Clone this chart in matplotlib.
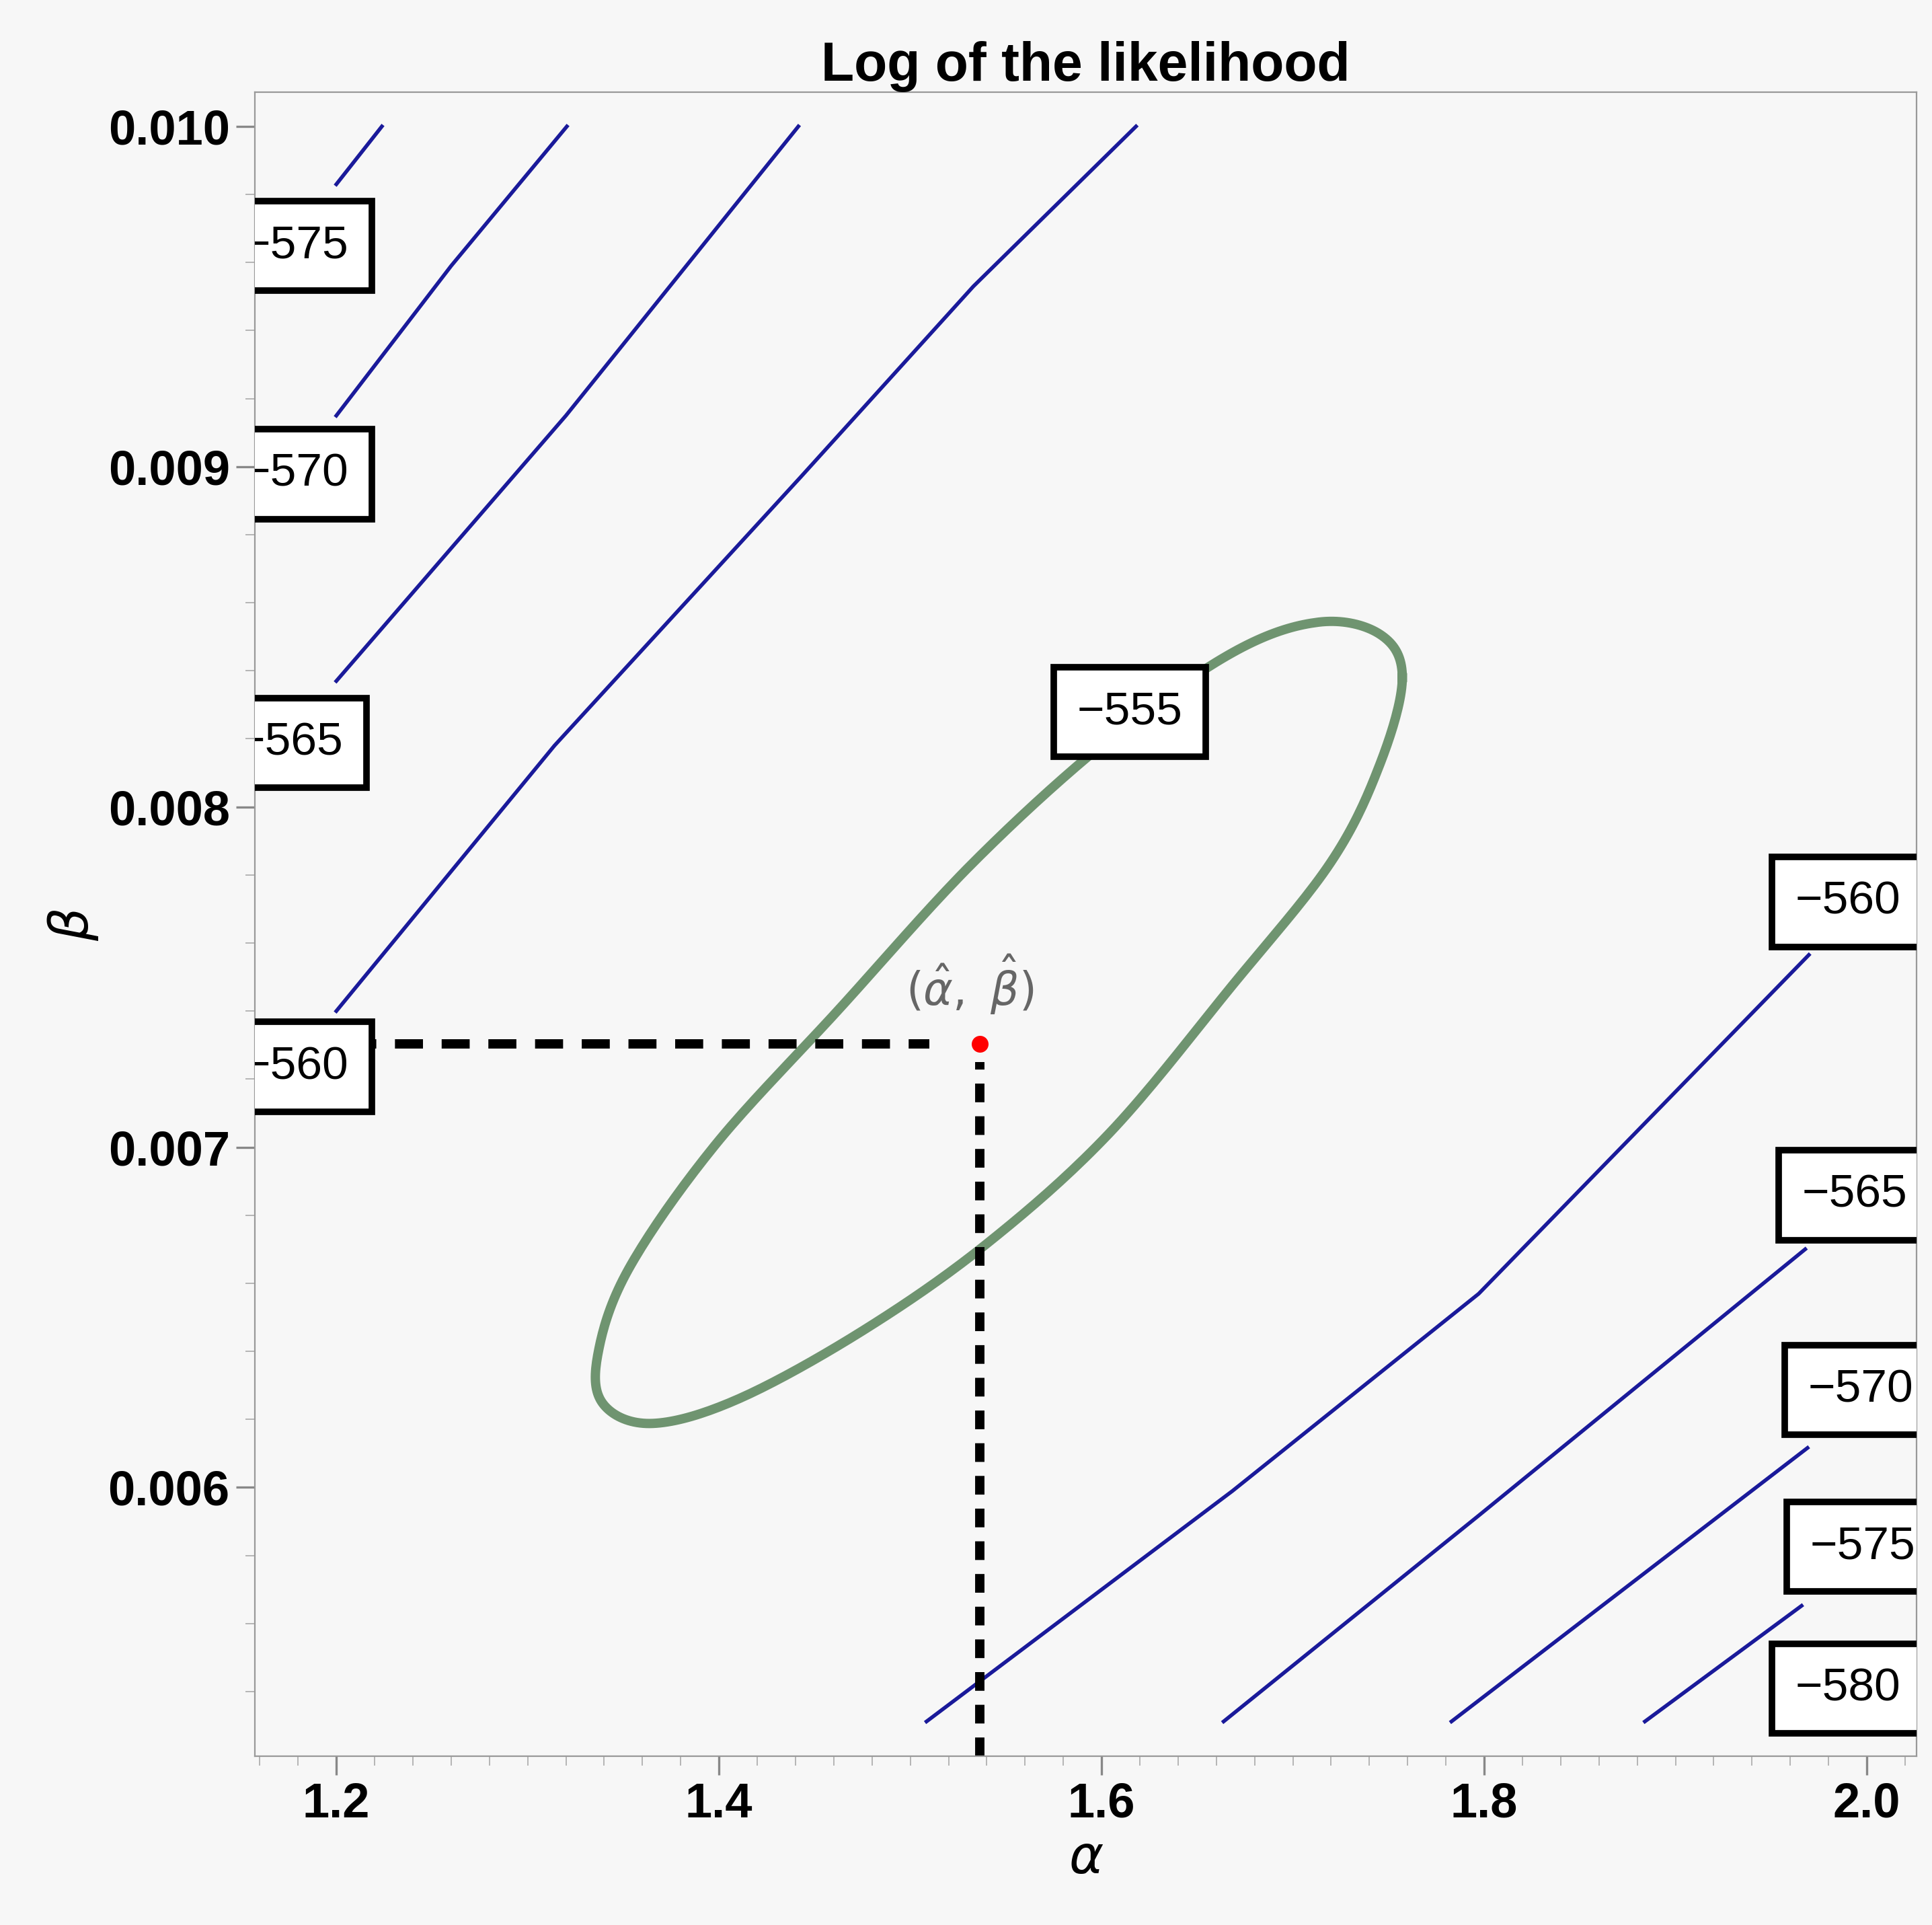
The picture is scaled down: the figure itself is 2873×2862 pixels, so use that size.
import matplotlib.pyplot as plt
import numpy as np

plt.rcParams['font.family'] = ['Liberation Sans', 'DejaVu Sans']

# contour curves (alpha, beta)
upper_lines = {
    -575: ([1.2, 1.2238], [0.00983, 0.01000]),
    -570: ([1.2, 1.26, 1.3205], [0.00915, 0.00959, 0.01000]),
    -565: ([1.2, 1.32, 1.4415], [0.00837, 0.00915, 0.01000]),
    -560: ([1.2, 1.314, 1.4428, 1.533, 1.618], [0.00740, 0.00818, 0.00897, 0.00953, 0.01000]),
}
lower_lines = {
    -560: ([1.5085, 1.6683, 1.7971, 1.9697], [0.005312, 0.005989, 0.006569, 0.007565]),
    -565: ([1.6638, 1.7971, 1.9678], [0.005312, 0.005917, 0.0067]),
    -570: ([1.7829, 1.969], [0.005312, 0.006116]),
    -575: ([1.884, 1.9659], [0.005312, 0.005652]),
}
ell_a = [1.7572, 1.7456, 1.7198, 1.6683, 1.6039, 1.5395, 1.4750, 1.4106, 1.3655, 1.3398,
         1.3366, 1.3527, 1.3977, 1.4622, 1.5330, 1.6039, 1.6683, 1.7134, 1.7456]
ell_b = [0.008380, 0.008127, 0.007837, 0.007475, 0.007040, 0.006714, 0.006460, 0.006261, 0.006188, 0.006243,
         0.006388, 0.006641, 0.007004, 0.007402, 0.007837, 0.008199, 0.008453, 0.008543, 0.008507]
alpha_hat, beta_hat = 1.5362, 0.007304

labels = [(-575, 1.1787, 0.009649), (-570, 1.1787, 0.008978), (-565, 1.1760, 0.008188),
          (-560, 1.1787, 0.007236), (-555, 1.6148, 0.008279),
          (-560, 1.9903, 0.007721), (-565, 1.9936, 0.006859), (-570, 1.9968, 0.006286),
          (-575, 1.998, 0.005826), (-580, 1.9903, 0.005409)]


def closed_smooth(xs, ys, n=20):
    # periodic Catmull-Rom through the read points, just for a smooth outline
    p = np.column_stack([xs, ys])
    m = len(p)
    out = []
    for i in range(m):
        p0, p1, p2, p3 = p[i - 1], p[i], p[(i + 1) % m], p[(i + 2) % m]
        for t in np.linspace(0, 1, n, endpoint=False):
            out.append(0.5 * (2 * p1 + (-p0 + p2) * t + (2 * p0 - 5 * p1 + 4 * p2 - p3) * t ** 2
                              + (-p0 + 3 * p1 - 3 * p2 + p3) * t ** 3))
    out.append(out[0])
    return np.array(out)


bg = '#f7f7f7'
fig = plt.figure(figsize=(2873 / 200, 2862 / 200), dpi=200, facecolor=bg)
ax = fig.add_axes([0.132, 0.0877, 0.860, 0.8643], facecolor=bg)

for d in (upper_lines, lower_lines):
    for k, (a, b) in d.items():
        ax.plot(a, b, color='#1a1a9a', lw=2)

e = closed_smooth(ell_a, ell_b)
ax.plot(e[:, 0], e[:, 1], color='#6f9470', lw=5)

ax.plot([1.1575, 1.51], [beta_hat, beta_hat], color='k', lw=5, dashes=(3, 2))
ax.plot([alpha_hat, alpha_hat], [0.00521, 0.00725], color='k', lw=5, dashes=(2, 1.5))
ax.plot([alpha_hat], [beta_hat], 'o', color='red', ms=8, zorder=5)
ax.text(alpha_hat - 0.005, beta_hat + 0.00008, r'$(\hat{\alpha},\ \hat{\beta})$', color='#666666',
        fontsize=24, ha='center', va='bottom')

for v, a, b in labels:
    ax.text(a, b, '\u2212%d' % abs(v), fontsize=25, ha='center', va='center', clip_on=True, zorder=6,
            bbox=dict(boxstyle='square,pad=0.5', fc='white', ec='black', lw=3.5))

ax.set_xlim(1.1575, 2.026)
ax.set_ylim(0.00521, 0.0101)
ax.set_xticks([1.2, 1.4, 1.6, 1.8, 2.0])
ax.set_xticks(np.arange(1.16, 2.03, 0.02), minor=True)
ax.set_yticks([0.006, 0.007, 0.008, 0.009, 0.010])
ax.set_yticks(np.arange(0.0054, 0.0101, 0.0002), minor=True)
ax.set_yticklabels(['0.006', '0.007', '0.008', '0.009', '0.010'])
ax.tick_params(labelsize=26, length=10, width=1.2, color='#888888')
ax.tick_params(which='minor', length=5, color='#aaaaaa')
for t in ax.get_xticklabels() + ax.get_yticklabels():
    t.set_fontweight('bold')
for s in ax.spines.values():
    s.set_color('#999999')

ax.set_xlabel(r'$\alpha$', fontsize=28)
ax.set_ylabel(r'$\beta$', fontsize=28)
ax.set_title('Log of the likelihood', fontsize=29, fontweight='bold', pad=4)

fig.savefig('out.png', dpi=200, facecolor=bg)
